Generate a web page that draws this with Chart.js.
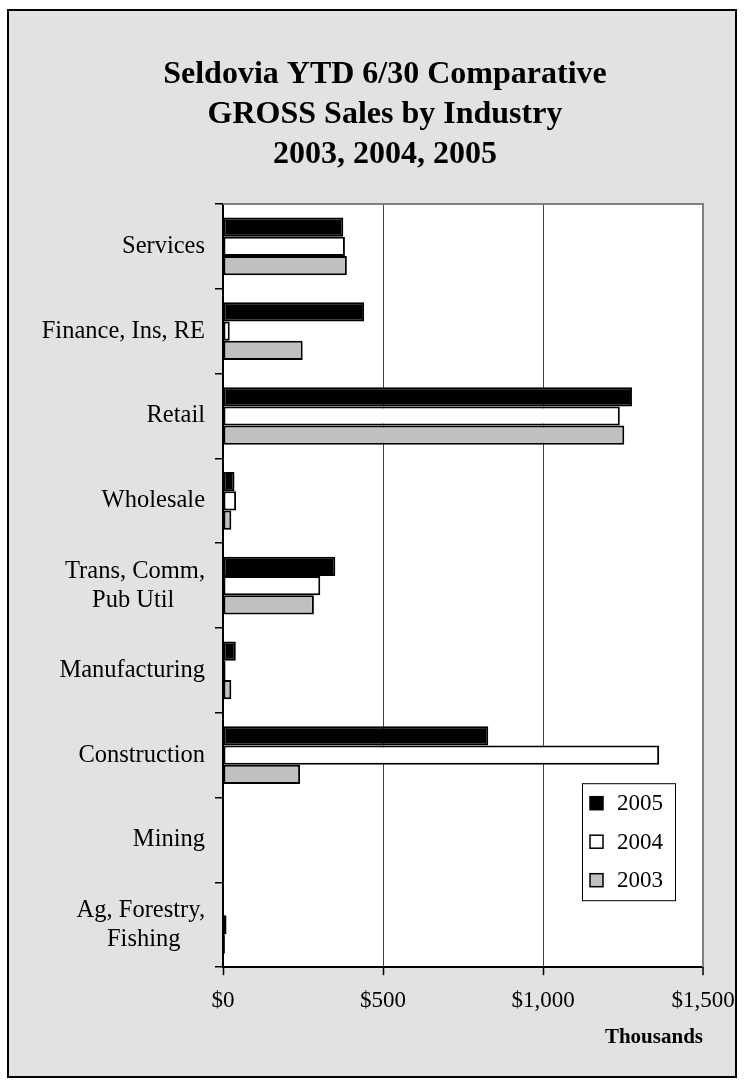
<!DOCTYPE html>
<html>
<head>
<meta charset="utf-8">
<script src="https://cdn.jsdelivr.net/npm/chart.js@4/dist/chart.umd.min.js"></script>
<style>
    html, body { margin: 0; padding: 0; background: #fff; }
    #marco {
        position: absolute; left: 7px; top: 9px;
        width: 730px; height: 1069px; box-sizing: border-box;
        border: 2px solid #000; background: #e2e2e2;
    }
    #contenedor { position: relative; width: 726px; height: 1065px; }
</style>
</head>
<body>
<div id="marco"><div id="contenedor"><canvas id="graficoVentas"></canvas></div></div>
<script>
// Datos (miles de $)
const categorias = ['Services', 'Finance, Ins, RE', 'Retail', 'Wholesale', ['Trans, Comm,', 'Pub Util'],
    'Manufacturing', 'Construction', 'Mining', ['Ag, Forestry,', 'Fishing']];
const ventas2005 = [376, 441, 1278, 36, 351, 40, 829, 0, 0];
const ventas2004 = [381, 21, 1240, 41, 304, 8, 1363, 0, 11];
const ventas2003 = [387, 249, 1254, 26, 284, 26, 241, 0, 6];
const etiquetasSeries = ['2005', '2004', '2003'];
const ticksX = [0, 500, 1000, 1500];

const FUENTE = "'Times New Roman', 'Liberation Serif', serif";
const TAM_CAT = 24.5;

// Centra las lineas de una etiqueta de varias lineas (Excel las centra entre si)
function centrarLineas(lineas) {
    if (!Array.isArray(lineas)) return lineas;
    let c = document.createElement('canvas').getContext('2d');
    c.font = TAM_CAT + 'px ' + FUENTE;
    let anchos = lineas.map(l => c.measureText(l).width);
    let max = Math.max(...anchos);
    let espacio = c.measureText(' ').width;
    return lineas.map((l, i) => l + ' '.repeat(Math.round((max - anchos[i]) / 2 / espacio)));
}

// Fondo blanco del area de trazado y bordes gris arriba/derecha
const fondoArea = {
    id: 'fondoArea',
    afterLayout(chart) {
        // el titulo va centrado algo a la derecha del centro del lienzo
        if (chart.titleBlock) {
            chart.titleBlock.left += 29;
            chart.titleBlock.right += 29;
        }
    },
    beforeDraw(chart) {
        let {ctx, chartArea: a} = chart;
        ctx.save();
        ctx.fillStyle = '#fff';
        ctx.fillRect(a.left, a.top, a.right - a.left, a.bottom - a.top);
        ctx.restore();
    },
    beforeDatasetsDraw(chart) {
        let {ctx, chartArea: a} = chart;
        ctx.save();
        ctx.strokeStyle = '#808080';
        ctx.lineWidth = 2;
        ctx.beginPath();
        ctx.moveTo(a.left, a.top);
        ctx.lineTo(a.right, a.top);
        ctx.lineTo(a.right, a.bottom);
        ctx.stroke();
        ctx.restore();
    }
};

// Leyenda en caja dentro del area de trazado
const leyendaCaja = {
    id: 'leyendaCaja',
    afterDraw(chart) {
        let {ctx, chartArea: a} = chart;
        let w = 93, h = 117;
        let x = a.right - 28 - w, y = a.bottom - 67 - h;
        ctx.save();
        ctx.fillStyle = '#fff';
        ctx.fillRect(x, y, w, h);
        ctx.strokeStyle = '#000';
        ctx.lineWidth = 1;
        ctx.strokeRect(x + 0.5, y + 0.5, w, h);
        ctx.font = '23px ' + FUENTE;
        ctx.textBaseline = 'middle';
        ctx.textAlign = 'left';
        chart.data.datasets.forEach((ds, i) => {
            let cy = y + 20 + i * 38.5;
            ctx.fillStyle = ds.backgroundColor;
            ctx.fillRect(x + 8, cy - 6.5, 13, 13);
            ctx.strokeStyle = '#000';
            ctx.lineWidth = 1.5;
            ctx.strokeRect(x + 8, cy - 6.5, 13, 13);
            ctx.fillStyle = '#000';
            ctx.fillText(ds.label, x + 35, cy + 1);
        });
        ctx.restore();
    }
};

const ctx = document.getElementById('graficoVentas').getContext('2d');
new Chart(ctx, {
    type: 'bar',
    data: {
        labels: categorias,
        datasets: [
            { label: etiquetasSeries[0], data: ventas2005, backgroundColor: '#000000' },
            { label: etiquetasSeries[1], data: ventas2004, backgroundColor: '#ffffff' },
            { label: etiquetasSeries[2], data: ventas2003, backgroundColor: '#c0c0c0' }
        ].map(d => Object.assign(d, {
            borderColor: '#000', borderWidth: 2, borderSkipped: false,
            barPercentage: 1, categoryPercentage: 0.68
        }))
    },
    options: {
        indexAxis: 'y',
        responsive: true,
        maintainAspectRatio: false,
        animation: false,
        layout: { padding: { left: 0, right: 32, top: 0, bottom: 26 } },
        plugins: {
            legend: { display: false },
            tooltip: { enabled: false },
            title: {
                display: true,
                text: ['Seldovia YTD 6/30 Comparative', 'GROSS Sales by Industry', '2003, 2004, 2005'],
                color: '#000',
                font: { family: FUENTE, size: 32, weight: 'bold', lineHeight: 40 / 32 },
                padding: { top: 44, bottom: 29 }
            }
        },
        scales: {
            x: {
                min: ticksX[0],
                max: ticksX[ticksX.length - 1],
                afterBuildTicks: (scale) => { scale.ticks = ticksX.map(v => ({ value: v })); },
                afterFit: (scale) => { scale.paddingRight = 0; },
                border: { color: '#000', width: 2 },
                grid: {
                    color: (c) => c.index === 3 ? '#808080' : '#444',
                    lineWidth: (c) => c.index === 3 ? 2 : 1,
                    tickColor: '#000',
                    tickWidth: 1.5,
                    tickLength: 8
                },
                ticks: {
                    color: '#000',
                    padding: 12,
                    font: { family: FUENTE, size: 23 },
                    callback: (v) => '$' + v.toLocaleString('en-US')
                },
                title: {
                    display: true,
                    text: 'Thousands',
                    align: 'end',
                    color: '#000',
                    font: { family: FUENTE, size: 21, weight: 'bold' },
                    padding: { top: -2, bottom: 0 }
                }
            },
            y: {
                afterFit: (scale) => { scale.width = 214; },
                border: { color: '#000', width: 2 },
                grid: {
                    drawOnChartArea: false,
                    color: '#000',
                    lineWidth: 1.5,
                    tickLength: 8
                },
                ticks: {
                    color: '#000',
                    padding: 10,
                    font: { family: FUENTE, size: TAM_CAT, lineHeight: 29 / TAM_CAT },
                    callback: function(v) { return centrarLineas(this.getLabelForValue(v)); }
                }
            }
        }
    },
    plugins: [fondoArea, leyendaCaja]
});
</script>
</body>
</html>
